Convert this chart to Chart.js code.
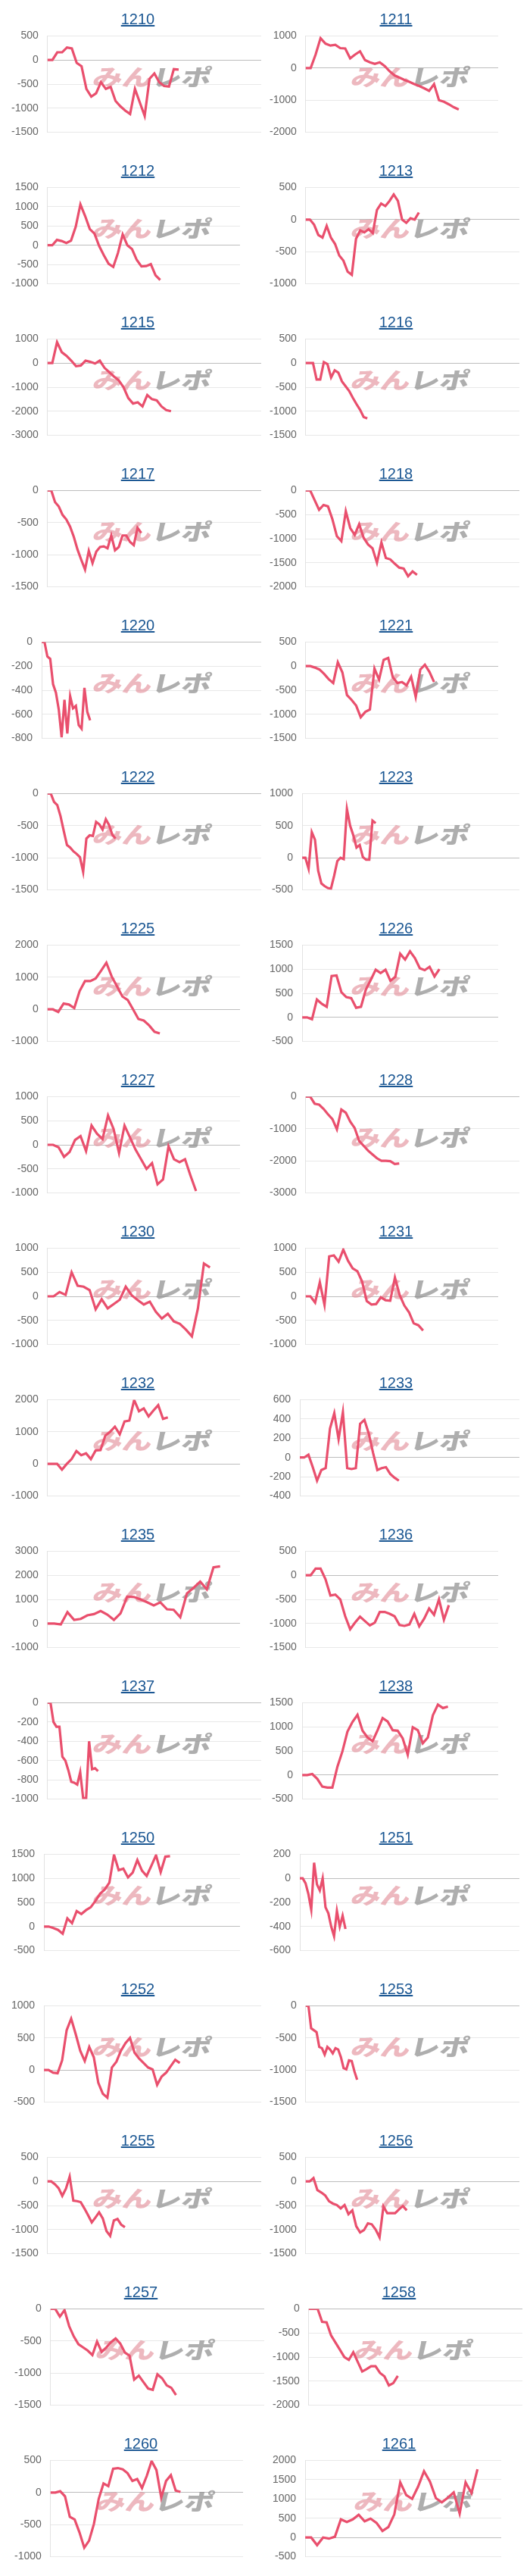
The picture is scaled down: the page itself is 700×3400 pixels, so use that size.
<!DOCTYPE html>
<html>
<head>
<meta charset="utf-8">
<script src="https://cdn.jsdelivr.net/npm/chart.js@4.4.1/dist/chart.umd.min.js"></script>
<style>
  body { margin: 0; background: #fff; }
  #board { position: relative; width: 700px; height: 3400px; overflow: hidden; }
  .ttl {
    position: absolute;
    width: 200px;
    text-align: center;
    font: 20px "Liberation Sans", Arial, sans-serif;
    line-height: 20px;
    z-index: 2;
  }
  .ttl a { color: #1b5793; text-decoration: underline; }
  canvas.cv { position: absolute; z-index: 1; }
</style>
</head>
<body>
<div id="board"></div>
<script>
/* ==========================================================
   DATA (one array per machine)
   ==========================================================*/
const s1210 = [0,0,160,160,260,240,-60,-130,-600,-760,-690,-460,-600,-560,-850,-960,-1050,-1120,-600,-880,-1160,-390,-280,-460,-540,-550,-190,-200];
const s1211 = [0,0,420,930,760,700,720,620,610,300,420,520,250,180,130,180,60,-100,-230,-300,-370,-430,-500,-560,-630,-710,-500,-1000,-1050,-1130,-1220,-1290];
const s1212 = [0,0,140,110,60,120,480,1060,760,420,300,-20,-260,-480,-560,-200,280,0,-100,-380,-550,-540,-490,-780,-900];
const s1213 = [0,0,-80,-240,-280,-100,-280,-380,-560,-640,-810,-860,-300,-170,-200,-150,-210,150,250,210,290,390,290,0,-50,20,0,110];
const s1215 = [0,0,870,450,300,100,-130,-100,100,50,-20,100,-200,-380,-560,-720,-1000,-1450,-1680,-1630,-1800,-1330,-1500,-1550,-1800,-1950,-2000];
const s1216 = [0,0,0,-340,-340,20,-20,-300,-150,-200,-380,-480,-580,-720,-850,-970,-1120,-1150];
const s1217 = [0,0,-180,-250,-380,-450,-560,-720,-920,-1080,-1230,-940,-1130,-950,-880,-870,-900,-700,-930,-880,-700,-700,-800,-850,-580,-660];
const s1218 = [0,0,-200,-400,-300,-330,-600,-950,-1050,-430,-780,-920,-700,-980,-1120,-1200,-1500,-1080,-1400,-1430,-1520,-1600,-1620,-1780,-1680,-1750];
const s1220 = [0,0,-120,-140,-350,-420,-560,-790,-480,-760,-450,-550,-530,-690,-720,-380,-580,-650];
const s1221 = [0,0,-30,-70,-160,-270,-350,80,-130,-600,-700,-820,-1060,-950,-900,-50,-280,130,170,-230,-350,-330,-400,-220,-640,-70,30,-120,-330];
const s1222 = [0,0,-130,-180,-350,-580,-800,-840,-900,-940,-990,-1220,-700,-650,-660,-440,-480,-560,-400,-490,-640,-700];
const s1223 = [0,0,-170,400,280,-200,-400,-440,-470,-480,-280,-50,0,-20,760,500,350,160,200,10,-30,-30,580,540];
const s1225 = [0,0,-80,180,150,40,570,880,880,960,1200,1450,1020,710,400,290,0,-300,-350,-500,-700,-750];
const s1226 = [0,0,-40,370,280,220,860,870,520,420,400,200,220,580,780,990,920,990,760,840,1320,1200,1370,1230,1020,980,1050,850,1000];
const s1227 = [0,0,-50,-250,-150,100,180,-130,400,230,120,610,330,-170,400,150,-100,-300,-500,-380,-820,-720,-30,-300,-360,-300,-640,-960];
const s1228 = [0,0,-220,-250,-380,-550,-700,-1020,-400,-500,-780,-980,-1380,-1530,-1680,-1800,-1920,-2000,-2000,-2010,-2100,-2080];
const s1230 = [0,0,90,30,500,220,200,130,-270,-60,-250,-160,-70,200,20,-80,-170,-110,-320,-460,-360,-520,-570,-690,-830,-250,680,600];
const s1231 = [0,0,-130,290,-180,830,850,720,970,740,580,520,310,-100,-170,-160,-20,-80,-90,390,30,-190,-330,-560,-600,-710];
const s1232 = [0,0,0,-180,0,150,400,270,330,150,420,430,880,1000,1160,920,1320,1350,1990,1640,1730,1480,1660,1830,1400,1450];
const s1233 = [0,0,30,-100,-240,-130,-110,300,460,190,470,-110,-120,-110,350,390,250,50,-130,-110,-100,-170,-210,-240];
const s1235 = [0,0,-40,470,150,190,340,390,520,370,150,420,1110,1100,1000,880,750,880,590,570,260,1250,1480,1740,1420,2330,2370];
const s1236 = [0,0,140,140,-80,-420,-400,-500,-850,-1120,-980,-860,-950,-1040,-980,-760,-760,-800,-850,-1030,-1050,-1020,-800,-1060,-900,-690,-820,-500,-920,-620];
const s1237 = [0,0,-200,-250,-250,-560,-600,-700,-820,-830,-850,-720,-990,-990,-400,-690,-680,-710];
const s1238 = [0,0,20,-80,-240,-260,-260,170,490,900,1100,1250,920,780,700,930,1180,1110,930,920,760,420,990,930,660,780,1240,1460,1390,1420];
const s1250 = [0,0,-30,-70,-150,170,70,320,260,340,400,530,680,770,910,1490,1170,1200,1020,1120,1380,1160,1050,1260,1480,1130,1450,1460];
const s1251 = [0,0,-40,-130,-260,130,-50,-100,0,-240,-290,-400,-480,-270,-400,-310,-420];
const s1252 = [0,0,-40,-50,150,620,800,560,300,140,360,200,-200,-370,-430,40,130,300,420,500,270,180,110,40,10,-230,-100,-40,60,160,110];
const s1253 = [0,0,-350,-380,-410,-640,-660,-760,-640,-680,-740,-660,-680,-800,-970,-990,-850,-860,-1020,-1150];
const s1255 = [0,0,-60,-140,-300,-150,100,-400,-410,-430,-560,-700,-850,-750,-640,-770,-1030,-1130,-810,-780,-900,-950];
const s1256 = [0,0,70,-180,-230,-290,-410,-460,-490,-560,-490,-680,-600,-930,-1060,-1010,-870,-890,-1000,-1160,-520,-660,-660,-660,-580,-510,-600];
const s1257 = [0,0,-120,-20,-270,-430,-550,-600,-650,-720,-510,-670,-600,-520,-460,-540,-680,-730,-1100,-1040,-1140,-1240,-1260,-1020,-1080,-1190,-1230,-1340];
const s1258 = [0,0,0,-270,-280,-550,-700,-850,-1000,-1060,-900,-1100,-1300,-1250,-1190,-1190,-1330,-1400,-1590,-1540,-1390];
const s1260 = [0,0,20,-60,-380,-420,-620,-860,-750,-490,-100,140,100,370,380,360,300,180,210,70,260,490,350,-80,180,270,30,10];
const s1261 = [0,0,-200,0,-30,20,470,400,470,590,420,490,380,170,270,600,1430,1100,1000,1320,1720,1450,1020,910,1030,1170,620,1430,1150,1770];

const codes = ["1210","1211","1212","1213","1215","1216","1217","1218","1220","1221","1222","1223",
  "1225","1226","1227","1228","1230","1231","1232","1233","1235","1236","1237","1238",
  "1250","1251","1252","1253","1255","1256","1257","1258","1260","1261"];

const series = [s1210,s1211,s1212,s1213,s1215,s1216,s1217,s1218,s1220,s1221,s1222,s1223,
  s1225,s1226,s1227,s1228,s1230,s1231,s1232,s1233,s1235,s1236,s1237,s1238,
  s1250,s1251,s1252,s1253,s1255,s1256,s1257,s1258,s1260,s1261];

// y axis range + step for each chart
const yMin  = [-1500,-2000,-1000,-1000,-3000,-1500,-1500,-2000,-800,-1500,-1500,-500,
  -1000,-500,-1000,-3000,-1000,-1000,-1000,-400,-1000,-1500,-1000,-500,
  -500,-600,-500,-1500,-1500,-1500,-1500,-2000,-1000,-500];
const yMax  = [500,1000,1500,500,1000,500,0,0,0,500,0,1000,
  2000,1500,1000,0,1000,1000,2000,600,3000,500,0,1500,
  1500,200,1000,0,500,500,0,0,500,2000];
const yStep = [500,1000,500,500,1000,500,500,500,200,500,500,500,
  1000,500,500,1000,500,500,1000,200,1000,500,200,500,
  500,200,500,500,500,500,500,500,500,500];

// number of x slots on each chart (line only fills the first part)
const slots = [45,40,42,52,46,60,58,49,78,43,67,69,
  37,41,36,49,33,42,41,52,30,40,73,40,
  43,78,49,80,59,56,47,49,41,34];

/* ==========================================================
   LAYOUT
   ==========================================================*/
const narrowPlot = [0,1,1,0,0,0,0,0,0,1,0,0,
  1,1,1,0,1,1,1,0,1,1,0,1,
  1,0,0,0,0,0,0,0,1,1];

const ROW_H = 200;
const COL_W = 341;
const CANVAS_TOP = 27;   // chart area then starts ~47px into the row
const CANVAS_H = 168;    // ...and ends ~174px into the row
const LINE_COLOR = "#e94f6d";
const FONT = '"Liberation Sans", Arial, sans-serif';

/* ==========================================================
   WATERMARK PLUGIN
   ==========================================================*/
const watermark = {
  id: "watermark",
  beforeDatasetsDraw(chart) {
    const ctx = chart.ctx;
    ctx.save();
    ctx.translate(118, 86);
    ctx.transform(1, 0, -0.22, 1, 0, 0);
    ctx.scale(1.3, 1);
    ctx.font = '900 30px "Noto Sans CJK JP", sans-serif';
    ctx.textBaseline = "alphabetic";
    ctx.fillStyle = "rgba(226,140,152,0.62)";
    ctx.fillText("みん", 0, 0);
    const w = ctx.measureText("みん").width;
    ctx.fillStyle = "rgba(140,140,140,0.7)";
    ctx.fillText("レポ", w, 0);
    ctx.restore();
  },
};

/* ==========================================================
   BUILD CHARTS
   ==========================================================*/
const board = document.getElementById("board");

codes.forEach((code, i) => {
  const row = Math.floor(i / 2);
  const col = i % 2;
  const shift = row >= 15 ? 4 : 0;
  const top = row * ROW_H;
  const cellX = col * COL_W + shift;

  // title
  const t = document.createElement("div");
  t.className = "ttl";
  t.style.left = cellX + 182 - 100 + "px";
  t.style.top = top + 15 + "px";
  t.innerHTML = `<a href="#">${code}</a>`;
  board.appendChild(t);

  // canvas
  const canvasLeft = cellX + 3;
  const plotRight = cellX + (narrowPlot[i] ? 316 : 344);
  const w = plotRight - canvasLeft + 1;
  const cv = document.createElement("canvas");
  cv.className = "cv";
  cv.width = w;
  cv.height = CANVAS_H;
  cv.style.width = w + "px";
  cv.style.height = CANVAS_H + "px";
  cv.style.left = canvasLeft + "px";
  cv.style.top = top + CANVAS_TOP + "px";
  board.appendChild(cv);

  const labels = Array.from({ length: slots[i] }, (_, k) => k + 1);

  new Chart(cv, {
    type: "line",
    data: {
      labels,
      datasets: [
        {
          data: series[i],
          borderColor: LINE_COLOR,
          borderWidth: 3.2,
          pointRadius: 0,
          tension: 0,
          fill: false,
        },
      ],
    },
    options: {
      responsive: false,
      animation: false,
      events: [],
      layout: { padding: 0 },
      plugins: { legend: { display: false }, tooltip: { enabled: false } },
      scales: {
        x: { display: false },
        y: {
          min: yMin[i],
          max: yMax[i],
          ticks: {
            stepSize: yStep[i],
            color: "#666",
            padding: 12,
            font: { family: FONT, size: 14 },
            callback: (v) => String(v),
          },
          grid: {
            drawTicks: false,
            lineWidth: 1,
            color: (c) => (c.tick && c.tick.value === 0 ? "#bdbdbd" : "#e8e8e8"),
          },
          border: { display: true, color: "#e2e2e2" },
        },
      },
    },
    plugins: [watermark],
  });
});
</script>
</body>
</html>
